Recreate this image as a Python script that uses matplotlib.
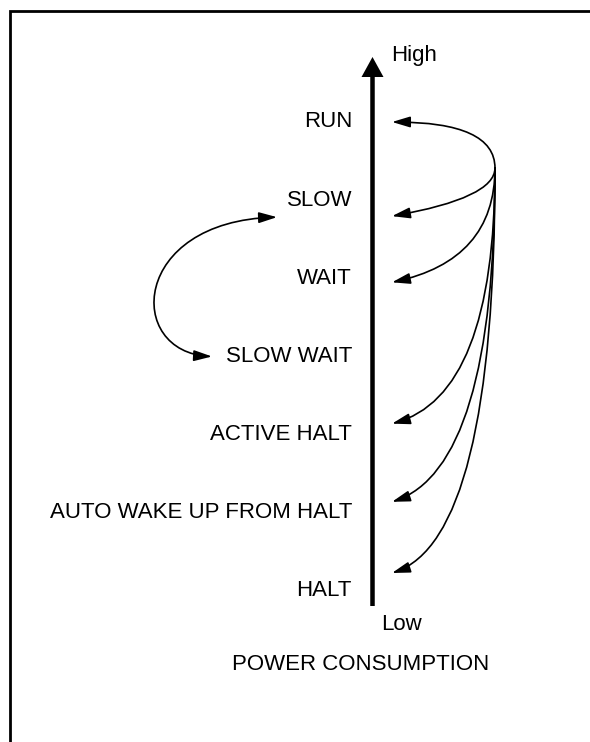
"""Power consumption levels of the operating modes."""
import matplotlib.pyplot as plt
from matplotlib.patches import FancyArrowPatch
from matplotlib.path import Path

plt.rcParams['font.family'] = ['Liberation Sans', 'DejaVu Sans']

# %%
# data: modes ordered by power consumption (6 = highest, 0 = lowest)
states = ["RUN", "SLOW", "WAIT", "SLOW WAIT", "ACTIVE HALT",
          "AUTO WAKE UP FROM HALT", "HALT"]
levels = [6, 5, 4, 3, 2, 1, 0]

# transitions fanning out on the right side
fan_targets = ["RUN", "SLOW", "WAIT", "ACTIVE HALT", "AUTO WAKE UP FROM HALT", "HALT"]
# two-way transition on the left side
loop_pair = ("SLOW", "SLOW WAIT")

# %%
# layout (pixel space)
W, H = 590, 742
Y0, STEP = 589, 78.17          # pixel y of level 0 and spacing per level
AXIS_X = 372.5
LABEL_X = 352
FS = 16

def ypix(level):
    return Y0 - STEP * level

lvl = dict(zip(states, levels))

fig = plt.figure(figsize=(W / 100, H / 100), dpi=100)
ax = fig.add_axes([0, 0, 1, 1])
ax.set_xlim(0, W)
ax.set_ylim(H, 0)
ax.axis("off")

# frame (only the top and left edges fall inside the picture)
ax.plot([9.7, 9.7, W], [H, 10.5, 10.5], color="black", lw=2.0,
        solid_joinstyle="miter", clip_on=False)

# vertical power axis
ax.arrow(AXIS_X, 606, 0, 57 - 606, width=4.5, head_width=22, head_length=20,
         length_includes_head=True, color="black", lw=0)
ax.text(391, 53 + 7.5, "High", fontsize=FS, ha="left", va="baseline")
ax.text(381, 623 + 7.5, "Low", fontsize=FS, ha="left", va="baseline")
ax.text(360.5, 662 + 7.5, "POWER CONSUMPTION", fontsize=FS, ha="center", va="baseline")

# mode labels
for name, lv in zip(states, levels):
    ax.text(LABEL_X, ypix(lv) + 7.5, name, fontsize=FS, ha="right", va="baseline")

# fan of arrows from the common point on the right
src = (495, 168)
tip_offset = [2, 18, 6, -9, -9, -16]
end_angle = [0, 10, 12, 15, 18, 18]
for name, off, ang in zip(fan_targets, tip_offset, end_angle):
    arr = FancyArrowPatch(src, (392, ypix(lvl[name]) + off),
                          connectionstyle=f"angle3,angleA=90,angleB={ang}",
                          arrowstyle="-|>,head_length=1.1,head_width=0.33",
                          mutation_scale=10, lw=1.2, color="black",
                          shrinkA=0, shrinkB=0)
    ax.add_patch(arr)

# SLOW <-> SLOW WAIT loop
y_top = ypix(lvl[loop_pair[0]]) + 19
y_bot = ypix(lvl[loop_pair[1]]) + 2
loop = Path([(277, y_top), (130, y_top + 4), (125, y_bot - 4), (212, y_bot)],
            [Path.MOVETO, Path.CURVE4, Path.CURVE4, Path.CURVE4])
ax.add_patch(FancyArrowPatch(path=loop,
                             arrowstyle="<|-|>,head_length=1.1,head_width=0.33",
                             mutation_scale=10, lw=1.2, color="black"))

fig.savefig("out.png", dpi=100)
